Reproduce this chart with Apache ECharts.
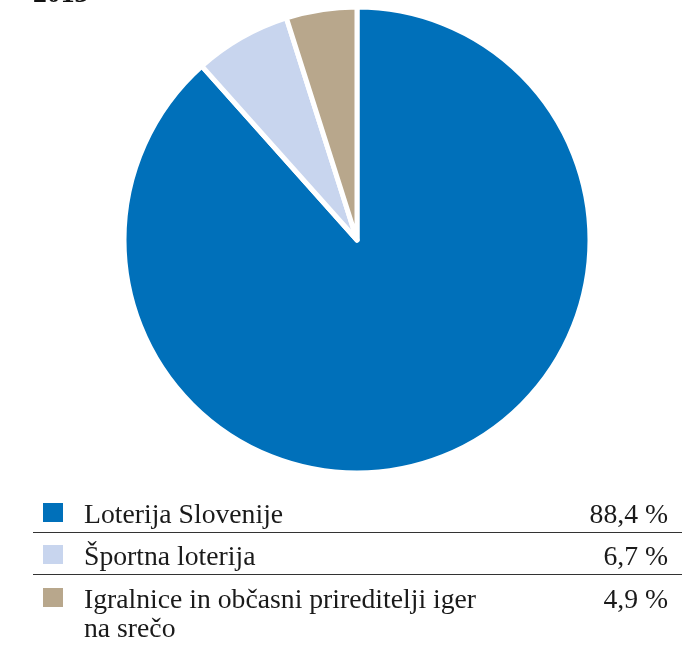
<!DOCTYPE html>
<html>
<head>
<meta charset="utf-8">
<script src="https://cdn.jsdelivr.net/npm/echarts@6/dist/echarts.min.js"></script>
<style>
  html, body { margin: 0; padding: 0; background: #fff; }
  #chart { width: 699px; height: 645px; }
</style>
</head>
<body>
<div id="chart"></div>
<script>
  // podatki
  let categories = ['Loterija Slovenije', 'Športna loterija', 'Igralnice in občasni prireditelji iger\nna srečo']
  let values = [88.4, 6.7, 4.9]
  let valueLabels = ['88,4 %', '6,7 %', '4,9 %']
  let colors = ['#0070ba', '#c8d5ee', '#b8a78c']
  let title = '2013'

  let font = '"Liberation Serif", "Times New Roman", serif'
  let fontSize = 27.7
  let rowBase = [523, 565, 608] // baseline of each legend row

  let myChart = echarts.init(document.getElementById('chart'))

  let graphic = [{
    type: 'text',
    style: {
      text: title, x: 33, y: -5,
      font: 'bold ' + fontSize + 'px ' + font,
      fill: '#111', verticalAlign: 'middle'
    }
  }]

  categories.forEach(function (name, i) {
    let mid = rowBase[i] - 9
    graphic.push({
      type: 'rect',
      shape: { x: 43, y: rowBase[i] - 20, width: 20, height: 19 },
      style: { fill: colors[i] }
    })
    name.split('\n').forEach(function (line, k) {
      graphic.push({
        type: 'text',
        style: {
          text: line, x: 84, y: mid + 2 + k * 29,
          font: fontSize + 'px ' + font,
          fill: '#1a1a1a', verticalAlign: 'middle'
        }
      })
    })
    graphic.push({
      type: 'text',
      style: {
        text: valueLabels[i], x: 668, y: mid + 2,
        font: fontSize + 'px ' + font,
        fill: '#1a1a1a', align: 'right', verticalAlign: 'middle'
      }
    })
    if (i < categories.length - 1) {
      graphic.push({
        type: 'line',
        shape: { x1: 33, y1: rowBase[i] + 9.5, x2: 682, y2: rowBase[i] + 9.5 },
        style: { stroke: '#333', lineWidth: 1.2 }
      })
    }
  })

  let option = {
    animation: false,
    color: colors,
    graphic: graphic,
    series: [{
      type: 'pie',
      center: [357, 240],
      radius: 233,
      startAngle: 90,
      clockwise: true,
      label: { show: false },
      labelLine: { show: false },
      itemStyle: { borderColor: '#fff', borderWidth: 5 },
      emphasis: { disabled: true },
      data: categories.map(function (c, i) {
        return { name: c, value: values[i] }
      })
    }]
  }
  myChart.setOption(option)
</script>
</body>
</html>
